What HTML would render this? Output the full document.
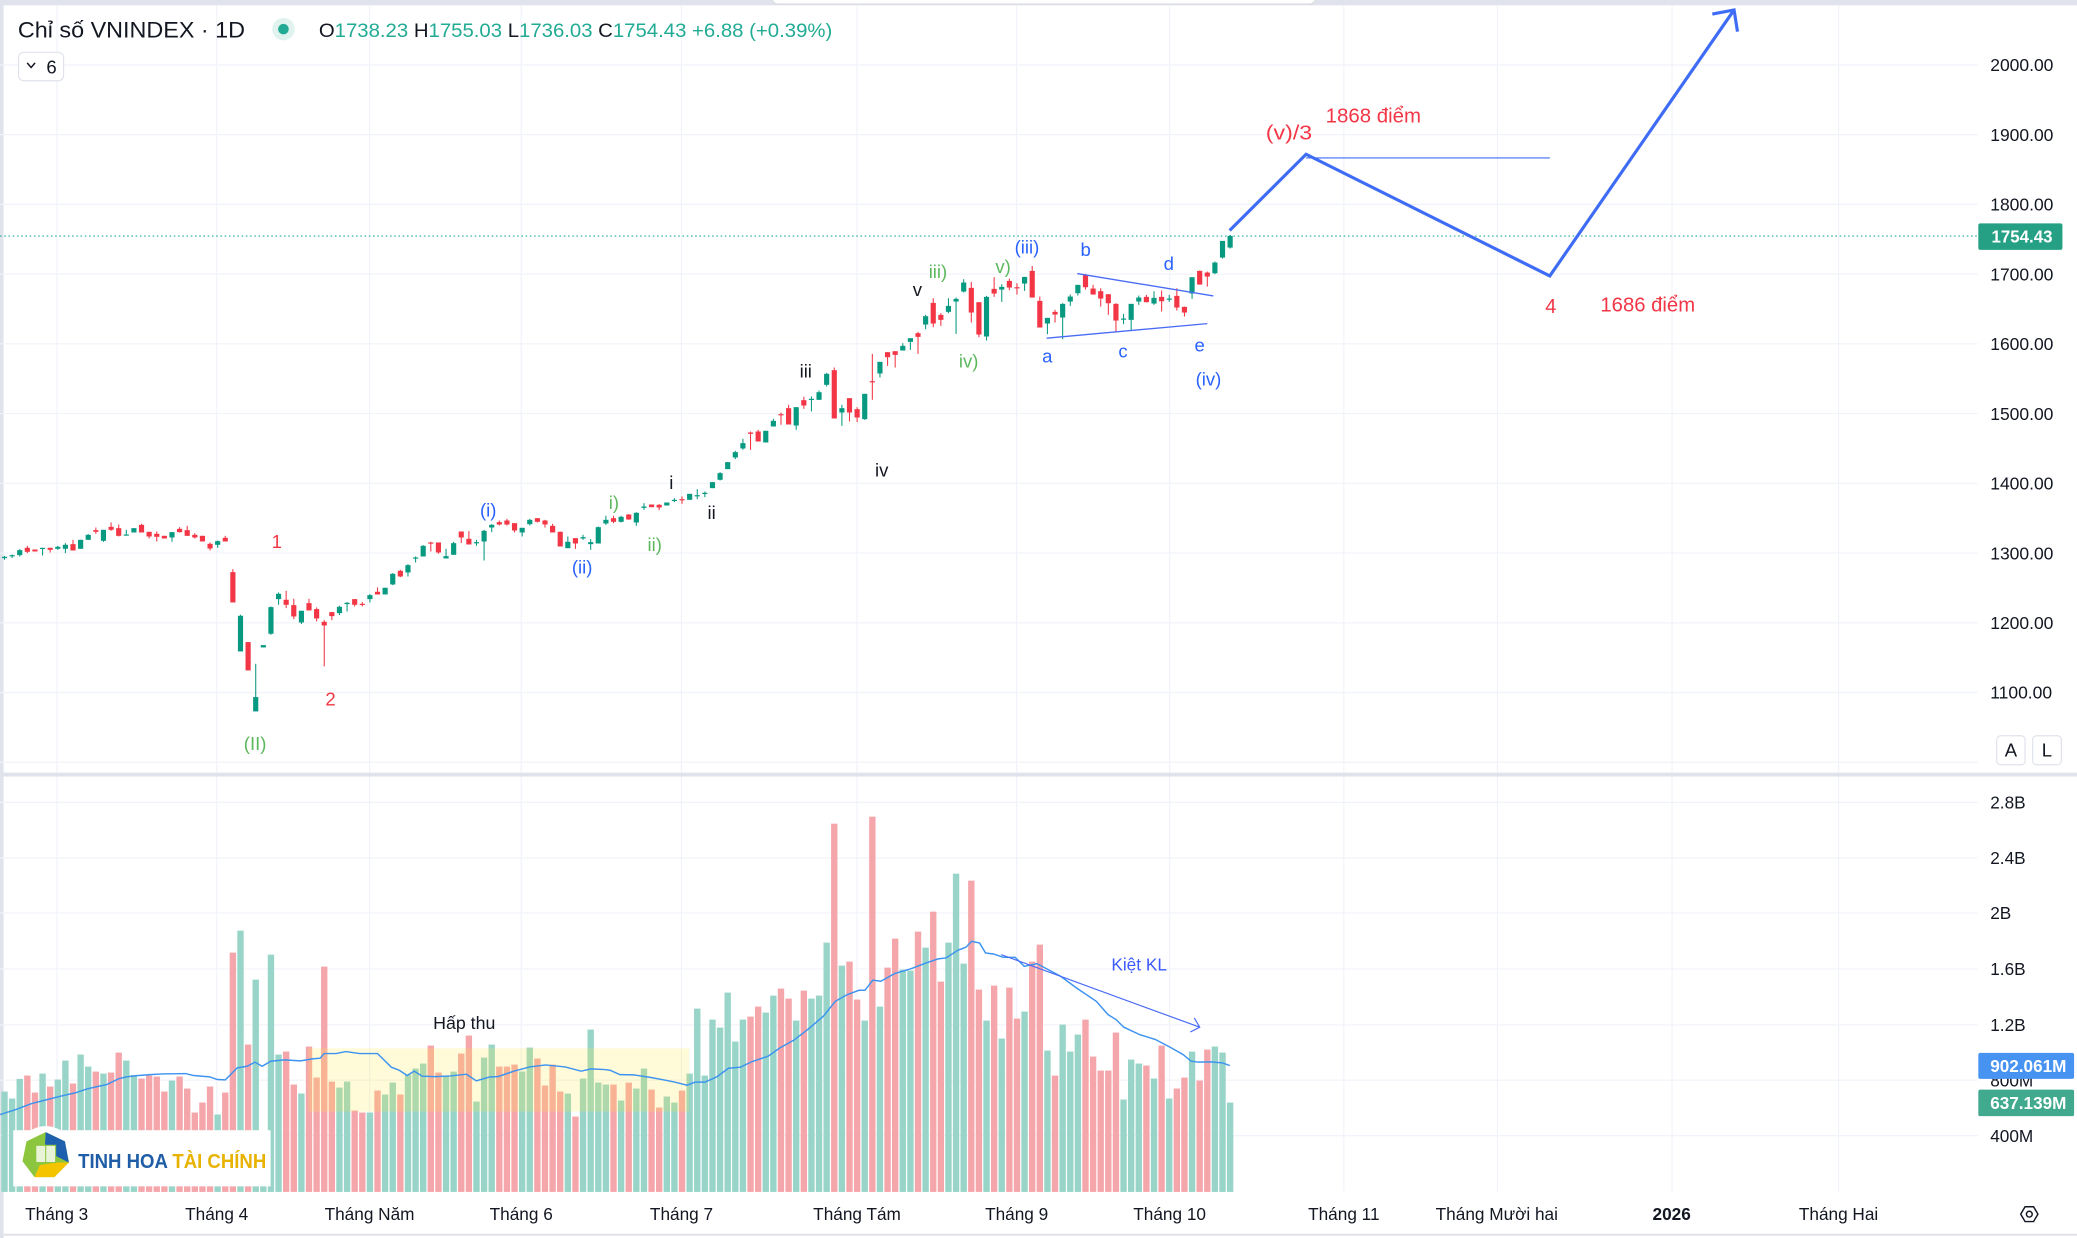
<!DOCTYPE html>
<html><head><meta charset="utf-8">
<style>
html,body{margin:0;padding:0;background:#fff;overflow:hidden;}
svg{display:block;}
text{font-family:"Liberation Sans","DejaVu Sans",sans-serif;}
</style></head>
<body>
<svg id="s" xmlns="http://www.w3.org/2000/svg" width="2077" height="1238" viewBox="0 0 1568 935" preserveAspectRatio="none">
<rect x="0" y="0" width="1568" height="935" fill="#ffffff"/>
<!-- borders -->
<rect x="0" y="0" width="1568" height="4" fill="#e0e3eb"/>
<rect x="0" y="0" width="2.7" height="935" fill="#e0e3eb"/>
<rect x="0" y="583.5" width="1568" height="3" fill="#e0e3eb"/>
<rect x="0" y="931.8" width="1568" height="1.5" fill="#e0e3eb"/>
<rect x="583" y="-6" width="410" height="9" rx="4" fill="#fff" stroke="#d6d9e0" stroke-width="0.8"/>
<g id="grid" stroke="#f0f3fa" stroke-width="0.9"></g>
<line x1="0" x2="1493" y1="178.3" y2="178.3" stroke="#22ab94" stroke-width="0.8" stroke-dasharray="1.2 2"/>
<g id="vol"></g>
<rect x="232.8" y="791.7" width="287.4" height="47.8" fill="rgba(255,235,59,0.2)"/>
<path id="ma" fill="none" stroke="#3d93f0" stroke-width="1.1"/>
<g id="candles"></g>

<!-- logo -->
<rect x="10" y="853.6" width="194.3" height="42.4" fill="#fff"/>
<circle cx="34.5" cy="872.5" r="22" fill="#fff"/>
<g>
<path d="M34.5,855 L49,862 L52,878 L41,889 L26,889 L17,877 L20,862 Z" fill="#8cc63f"/>
<path d="M34.5,855 L49,862 L52,878 L40,872 L34,864 Z" fill="#1e5fae"/>
<path d="M52,878 L41,889 L26,889 L30,880 L42,878 Z" fill="#f5c400"/>
<rect x="27" y="865" width="15" height="13" fill="#e9f3d8" stroke="#8cc63f" stroke-width="0.8"/>
<line x1="34.5" y1="865" x2="34.5" y2="878" stroke="#8cc63f" stroke-width="0.8"/>
</g>
<text x="59" y="882" font-size="15" font-weight="bold" textLength="142" lengthAdjust="spacingAndGlyphs"><tspan fill="#1f5ea6">TINH HOA </tspan><tspan fill="#e8b300">TÀI CHÍNH</tspan></text>

<!-- annotations -->
<g font-size="14" text-anchor="middle">
<text x="209" y="414" fill="#f23645">1</text>
<text x="249.5" y="533" fill="#f23645">2</text>
<text x="192.6" y="566.5" fill="#5cb85c">(II)</text>
<text x="368.6" y="390" fill="#2962ff">(i)</text>
<text x="439.5" y="433" fill="#2962ff">(ii)</text>
<text x="463.5" y="384.5" fill="#5cb85c">i)</text>
<text x="494.3" y="416" fill="#5cb85c">ii)</text>
<text x="506.8" y="369.5" fill="#131722">i</text>
<text x="537.2" y="392" fill="#131722">ii</text>
<text x="608.3" y="285" fill="#131722">iii</text>
<text x="665.6" y="360" fill="#131722">iv</text>
<text x="692.6" y="223.5" fill="#131722">v</text>
<text x="708.1" y="210" fill="#5cb85c">iii)</text>
<text x="731.3" y="277.5" fill="#5cb85c">iv)</text>
<text x="757.3" y="206" fill="#5cb85c">v)</text>
<text x="775.3" y="191.3" fill="#2962ff">(iii)</text>
<text x="790.6" y="273.8" fill="#2962ff">a</text>
<text x="819.6" y="193.3" fill="#2962ff">b</text>
<text x="847.8" y="270" fill="#2962ff">c</text>
<text x="882.4" y="203.8" fill="#2962ff">d</text>
<text x="905.7" y="265.5" fill="#2962ff">e</text>
<text x="912.3" y="291" fill="#2962ff">(iv)</text>
</g>
<line x1="813.3" y1="206.6" x2="916" y2="223.5" stroke="#4a6cf5" stroke-width="1"/>
<line x1="790.1" y1="255.4" x2="911.4" y2="244.4" stroke="#4a6cf5" stroke-width="1"/>

<line x1="986" y1="119.3" x2="1170" y2="119.3" stroke="#3f6cf5" stroke-width="0.9"/>
<polyline points="928.3,174.1 986,116.5 1170,208.4 1309.1,7.5" fill="none" stroke="#3f6cf5" stroke-width="2.4" stroke-linejoin="miter"/>
<polyline points="1292.7,10.6 1309.1,7.5 1311.7,23.9" fill="none" stroke="#3f6cf5" stroke-width="2.4"/>
<g font-size="15" fill="#f23645">
<text x="955.6" y="105.5" textLength="35" lengthAdjust="spacingAndGlyphs">(v)/3</text>
<text x="1000.8" y="92.6" textLength="72" lengthAdjust="spacingAndGlyphs">1868 điểm</text>
<text x="1166.6" y="236.5">4</text>
<text x="1208.2" y="235.3" textLength="71.5" lengthAdjust="spacingAndGlyphs">1686 điểm</text>
</g>

<text x="327" y="777" font-size="13.5" fill="#131722" textLength="47" lengthAdjust="spacingAndGlyphs">Hấp thu</text>
<text x="839" y="733" font-size="13.5" fill="#3d5afe" textLength="42" lengthAdjust="spacingAndGlyphs">Kiệt KL</text>
<line x1="755.9" y1="721" x2="905.7" y2="775.8" stroke="#4a6cf5" stroke-width="0.9"/>
<polyline points="901.6,768.8 905.7,775.8 898.6,779.4" fill="none" stroke="#4a6cf5" stroke-width="0.9"/>

<!-- header -->
<text x="13.5" y="28.5" font-size="16.5" fill="#131722" textLength="171.5" lengthAdjust="spacingAndGlyphs">Chỉ số VNINDEX · 1D</text>
<circle cx="214" cy="22" r="8.5" fill="#e0f3ef"/>
<circle cx="214" cy="22" r="4" fill="#22ab94"/>
<text x="240.7" y="28" font-size="14.5" textLength="387.6" lengthAdjust="spacingAndGlyphs"><tspan fill="#131722">O</tspan><tspan fill="#22ab94">1738.23</tspan><tspan fill="#131722"> H</tspan><tspan fill="#22ab94">1755.03</tspan><tspan fill="#131722"> L</tspan><tspan fill="#22ab94">1736.03</tspan><tspan fill="#131722"> C</tspan><tspan fill="#22ab94">1754.43 +6.88 (+0.39%)</tspan></text>
<rect x="14" y="39.5" width="34" height="21.5" rx="4" fill="#fff" stroke="#e0e3eb" stroke-width="0.9"/>
<polyline points="20.5,47.5 23.5,51 26.5,47.5" fill="none" stroke="#131722" stroke-width="1.1"/>
<text x="35" y="55.5" font-size="14" fill="#131722">6</text>

<!-- price axis -->
<g id="paxis" font-size="13.2" fill="#131722"></g>
<rect x="1493.5" y="168.7" width="63.5" height="20" rx="1.5" fill="#26a085"/>
<text x="1503.5" y="183.2" font-size="13.2" font-weight="bold" fill="#fff" textLength="46" lengthAdjust="spacingAndGlyphs">1754.43</text>
<rect x="1507.4" y="555.7" width="21.4" height="21.9" rx="3" fill="#fff" stroke="#e0e3eb" stroke-width="0.9"/>
<rect x="1534.5" y="555.7" width="21.7" height="21.9" rx="3" fill="#fff" stroke="#e0e3eb" stroke-width="0.9"/>
<text x="1518.1" y="571.5" font-size="14" text-anchor="middle" fill="#131722">A</text>
<text x="1545.3" y="571.5" font-size="14" text-anchor="middle" fill="#131722">L</text>

<g font-size="13" fill="#131722">
<text x="1502.5" y="610.7">2.8B</text>
<text x="1502.5" y="652.7">2.4B</text>
<text x="1502.5" y="694.2">2B</text>
<text x="1502.5" y="736.5">1.6B</text>
<text x="1502.5" y="778.7">1.2B</text>
<text x="1502.5" y="820.5">800M</text>
<text x="1502.5" y="862.4">400M</text>
</g>
<rect x="1493.5" y="795.2" width="72.3" height="19.6" rx="1.5" fill="#4693f2"/>
<text x="1502.5" y="809.6" font-size="13" font-weight="bold" fill="#fff" textLength="57.5" lengthAdjust="spacingAndGlyphs">902.061M</text>
<rect x="1493.5" y="822.9" width="72.3" height="20.1" rx="1.5" fill="#40a98e"/>
<text x="1502.5" y="837.6" font-size="13" font-weight="bold" fill="#fff" textLength="57.5" lengthAdjust="spacingAndGlyphs">637.139M</text>

<!-- time axis -->
<g font-size="13" fill="#131722" text-anchor="middle">
<text x="42.8" y="921.5">Tháng 3</text>
<text x="163.6" y="921.5">Tháng 4</text>
<text x="279" y="921.5">Tháng Năm</text>
<text x="393.5" y="921.5">Tháng 6</text>
<text x="514.5" y="921.5">Tháng 7</text>
<text x="647" y="921.5">Tháng Tám</text>
<text x="767.5" y="921.5">Tháng 9</text>
<text x="883" y="921.5">Tháng 10</text>
<text x="1014.5" y="921.5">Tháng 11</text>
<text x="1130" y="921.5">Tháng Mười hai</text>
<text x="1262" y="921.5" font-weight="bold">2026</text>
<text x="1388" y="921.5">Tháng Hai</text>
</g>
<polygon points="1538.5,917 1535.2,922.6 1528.8,922.6 1525.5,917 1528.8,911.4 1535.2,911.4" fill="none" stroke="#131722" stroke-width="1.1"/>
<circle cx="1532" cy="917" r="2.2" fill="none" stroke="#131722" stroke-width="1.1"/>

<script>
(function(){
var NS='http://www.w3.org/2000/svg';
function add(p,t,a){var e=document.createElementNS(NS,t);for(var k in a)e.setAttribute(k,a[k]);p.appendChild(e);return e;}
var grid=document.getElementById('grid');
var i;
for(i=0;i<=10;i++){var y=49+i*52.67;add(grid,'line',{x1:0,x2:1493,y1:y,y2:y});}
[606,648,689.5,731.8,774,815.8,857.7].forEach(function(y){add(grid,'line',{x1:0,x2:1493,y1:y,y2:y});});
[43,163.6,279,393.5,514.5,647,767.5,883,1014.5,1130.5,1262.3,1388].forEach(function(x){add(grid,'line',{x1:x,x2:x,y1:4,y2:583.5});add(grid,'line',{x1:x,x2:x,y1:586.5,y2:900});});
var pax=document.getElementById('paxis');
var labs=['2000.00','1900.00','1800.00','1700.00','1600.00','1500.00','1400.00','1300.00','1200.00','1100.00'];
labs.forEach(function(l,k){if(k===2){}var t=add(pax,'text',{x:1502.5,y:49+k*52.67+4.7});t.textContent=l;});

var A=[[1,231,235,228,240],[1,226,228,224,235],[1,211,226,208,230],[0,204,216,198,220],[0,209,215,209,215],[1,204,206,204,227],[0,204,210,204,218],[1,201,207,198,210],[1,195,207,190,220],[0,193,212,180,212],[1,180,207,180,207],[1,165,180,163,180],[0,151,156,143,162],[1,150,183,150,186],[0,141,150,128,153],[0,145,168,134,170],[1,164,166,150,167],[1,145,158,145,158],[0,135,158,132,158],[0,156,170,156,176],[0,162,171,155,185],[0,168,176,168,176],[1,157,173,157,186],[0,147,157,142,158],[0,151,168,138,168],[0,165,173,160,176],[0,168,185,168,185],[0,192,206,188,212],[1,184,195,182,204],[0,174,185,168,185],[0,277,368,268,368],[1,408,515,405,515],[0,487,572,487,572],[1,652,695,552,695],[1,496,503,496,503],[1,382,462,380,465],[1,342,358,338,375],[0,360,375,333,385],[0,376,410,357,418],[1,393,428,393,433],[0,370,392,357,392],[0,388,416,383,425],[0,426,437,421,560],[0,397,409,397,421],[1,381,400,378,406],[1,369,373,367,395],[0,358,375,358,380],[0,372,374,367,380],[1,346,358,343,368],[0,336,344,323,344],[1,324,344,324,344],[1,282,314,280,316],[0,273,290,270,292],[1,256,278,253,290],[1,233,236,230,248],[1,198,230,196,230],[0,188,190,186,215],[0,188,218,188,222],[1,229,236,207,236],[1,190,225,186,225],[0,155,173,155,190],[0,177,194,154,194],[1,187,189,180,198],[1,153,185,150,242],[1,135,143,133,157],[0,127,134,122,137],[0,122,134,117,137],[0,130,152,130,158],[1,144,158,144,170],[1,120,133,117,137],[0,115,126,115,128],[0,122,134,120,143],[0,138,158,132,158],[0,156,200,155,200],[1,186,205,170,205],[0,175,191,175,207],[1,172,176,165,180],[1,187,193,178,210],[1,142,191,140,191],[1,120,131,108,135],[0,115,126,108,130],[1,111,126,108,128],[0,104,119,103,120],[1,99,128,97,138],[1,80,84,70,90],[0,74,82,74,82],[0,75,83,73,91],[1,68,77,68,77],[1,60,62,55,67],[0,58,60,50,72],[1,42,60,42,60],[1,46,48,28,58]];
var B=[[1,819,822,815,832],[1,787,805,787,805],[1,760,780,757,782],[1,727,748,727,748],[1,697,713,693,718],[1,670,686,657,690],[0,638,642,635,690],[0,635,665,630,665],[1,633,668,633,668],[1,603,620,597,620],[0,583,586,578,615],[0,565,614,555,614],[1,562,617,562,630],[0,541,557,531,567],[1,537,539,530,575],[1,517,540,512,540],[1,462,495,459,500],[0,451,596,443,596],[1,565,578,555,618],[0,535,578,535,605],[0,568,593,562,607],[1,522,598,522,600],[0,484,486,402,540],[1,426,461,426,473],[0,397,412,397,438],[0,394,405,394,443],[1,378,392,370,392],[1,355,366,355,390],[0,340,351,336,402],[1,289,314,285,328],[0,249,311,235,322],[0,285,300,280,318],[1,258,276,235,280],[1,237,245,233,342],[1,188,215,178,218],[0,204,278,186,308],[0,247,344,247,352],[1,231,350,228,362],[0,207,221,172,231],[1,201,209,193,246],[0,183,203,176,211],[0,202,204,190,224],[1,171,191,171,213],[0,153,233,138,233],[0,243,323,230,323],[1,294,311,294,343],[0,276,284,270,308],[1,252,293,250,358],[1,230,245,224,258],[1,195,220,195,227],[0,166,202,162,209],[0,206,224,195,224],[0,214,236,205,260],[0,223,250,223,285],[0,252,302,250,336],[1,296,298,282,313],[1,252,300,252,330],[1,233,245,227,255],[0,231,247,225,247],[1,234,251,214,255],[0,231,244,212,275],[1,236,238,225,246],[0,228,263,205,272],[0,261,278,260,290],[1,172,221,172,237],[0,153,194,152,194],[0,158,170,155,200],[1,128,160,125,163],[1,63,113,63,116],[1,48,83,45,86]];
var V=[876,897,838,828,879,822,861,840,783,852,765,801,816,822,819,759,783,826,837,828,831,876,843,831,867,939,909,861,945,879,459,393,735,540,1000,465,765,756,855,882,741,834,501,846,864,846,933,939,939,873,885,849,885,825,807,792,738,819,831,816,762,708,906,774,735,801,801,795,816,744,777,858,795,876,882,951,837,690,849,855,
855,903,849,867,807,870,924,891,909,873,822,627,828,660,684,579,726,660,651,621,639,588,567,597,663,573,597,588,429,72,498,486,600,663,51,621,504,417,510,513,396,444,336,546,429,222,492,243,570,663,558,717,564,657,636,486,435,753,828,675,756,705,660,771,813,813,699,900,780,792,798,837,738,897,867,834,756,843,750,741,759,909];
function X(i){return 3.4+i*5.747;}
var cg=document.getElementById('candles');
var vg=document.getElementById('vol');
var cols=[];
function draw(b,i,off){
  var y=function(z){return off+z/3.974;};
  var x=X(i);var col=b[0]?'#089981':'#f23645';cols[i]=b[0];
  add(cg,'line',{x1:x,x2:x,y1:y(b[3]),y2:y(b[4]),stroke:col,'stroke-width':0.8});
  var t=y(b[1]);var h=Math.max(y(b[2])-t,0.9);
  add(cg,'rect',{x:x-1.95,y:t,width:3.9,height:h,fill:col});
}
A.forEach(function(b,i){draw(b,i,362.4);});
B.forEach(function(b,k){draw(b,92+k,166.09);});
V.forEach(function(z,i){
  var x=X(i);var t=603.96+z/3.974;
  add(vg,'rect',{x:x-2.4,y:t,width:4.8,height:900.2-t,fill:cols[i]?'#98d4c7':'#f5a6aa'});
});
var M6=[[0,945],[40,930],[80,912],[120,900],[160,888],[190,880],[220,868],[250,860],[270,855],[300,838],[320,832],[350,828],[380,825],[410,823],[470,822],[490,828],[530,832],[550,840],[570,841],[600,805],[625,800],[645,788],[663,800],[685,785],[720,781],[760,784],[790,778],[810,776],[820,762],[850,762],[875,756],[910,762],[955,762],[990,803],[1010,812],[1030,828],[1048,815],[1068,830],[1100,831],[1140,829],[1180,824],[1205,844],[1240,832],[1260,831],[1300,815],[1340,802],[1380,796],[1430,802],[1470,815],[1495,808],[1530,810]];
var M7=[[0,812],[25,825],[60,826],[100,833],[140,842],[165,848],[195,857],[215,848],[240,848],[270,832],[300,806],[330,803],[360,786],[400,770],[430,745],[465,722],[500,690],[540,650],[570,605],[600,585],[630,572],[645,572],[665,542],[685,545],[720,522],[760,508],[800,490],[830,478],[850,475],[880,452],[900,443],[915,425],[935,430],[950,460],[970,463],[995,473],[1025,473],[1048,500],[1080,492],[1100,505],[1140,530],[1180,565],[1230,605],[1260,645],[1280,660],[1300,683],[1340,705],[1380,720],[1420,745],[1450,765],[1470,785],[1490,788],[1520,787],[1550,790],[1568,798]];
var d='';
M6.forEach(function(p,k){d+=(k?'L':'M')+(p[0]/3.351).toFixed(1)+','+(603.96+p[1]/3.974).toFixed(1);});
M7.forEach(function(p){d+='L'+(460.5+p[0]/3.351).toFixed(1)+','+(603.96+p[1]/3.974).toFixed(1);});
document.getElementById('ma').setAttribute('d',d);
})();
</script>
</svg>
</body></html>
